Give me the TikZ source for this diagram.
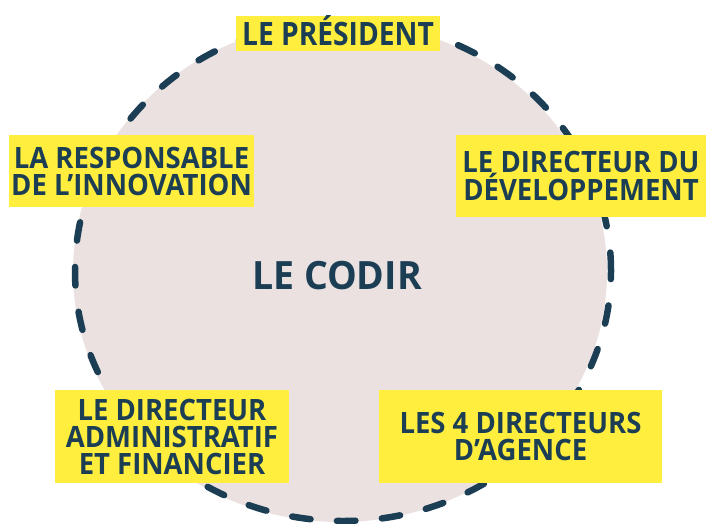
\documentclass[tikz,border=0pt]{standalone}
\usepackage{fontspec}
\newfontfamily\labfont{Open Sans}[FakeStretch=0.935]
\newfontfamily\presfont{Open Sans}[FakeStretch=0.875]
\newfontfamily\codirfont{Open Sans}[FakeStretch=0.96]
\definecolor{ylw}{HTML}{FFEE3D}
\definecolor{navy}{HTML}{1B3E54}
\definecolor{blush}{HTML}{EAE1E0}
\tikzset{
  labbox/.style={fill=ylw, text=navy, align=center, inner sep=0pt,
    font=\labfont\bfseries\fontsize{29.4}{27}\selectfont},
  dashring/.style={draw=navy, line width=6.5pt, line cap=round,
    dash pattern=on 18.5pt off 26.5pt},
}
\begin{document}
\begin{tikzpicture}[x=1pt,y=-1pt]
\useasboundingbox (0,0) rectangle (706,523);
\fill[blush] (340,272) ellipse [x radius=267pt, y radius=250pt];
\draw[dashring] (343,271) ellipse [x radius=268pt, y radius=250pt];
\node[labbox, minimum width=204pt, minimum height=35pt, text height=23pt, text depth=0pt,
  font=\presfont\bfseries\fontsize{32.2}{30}\selectfont] (pres) at (338,33.5) {LE PRÉSIDENT};
\node[labbox, minimum width=245pt, minimum height=72pt] (innov) at (131.5,171) {LA RESPONSABLE\\DE L’INNOVATION};
\node[labbox, minimum width=250pt, minimum height=82pt] (dev) at (581,176) {LE DIRECTEUR DU\\DÉVELOPPEMENT};
\node[labbox, minimum width=234pt, minimum height=93pt] (daf) at (172,436.5) {LE DIRECTEUR\\ADMINISTRATIF\\ET FINANCIER};
\node[labbox, minimum width=283pt, minimum height=93pt] (agence) at (520.5,436.5) {LES 4 DIRECTEURS\\D’AGENCE};
\node[text=navy, inner sep=0pt, font=\codirfont\bfseries\fontsize{39}{42}\selectfont] (codir) at (337,276) {LE CODIR};
\end{tikzpicture}
\end{document}
